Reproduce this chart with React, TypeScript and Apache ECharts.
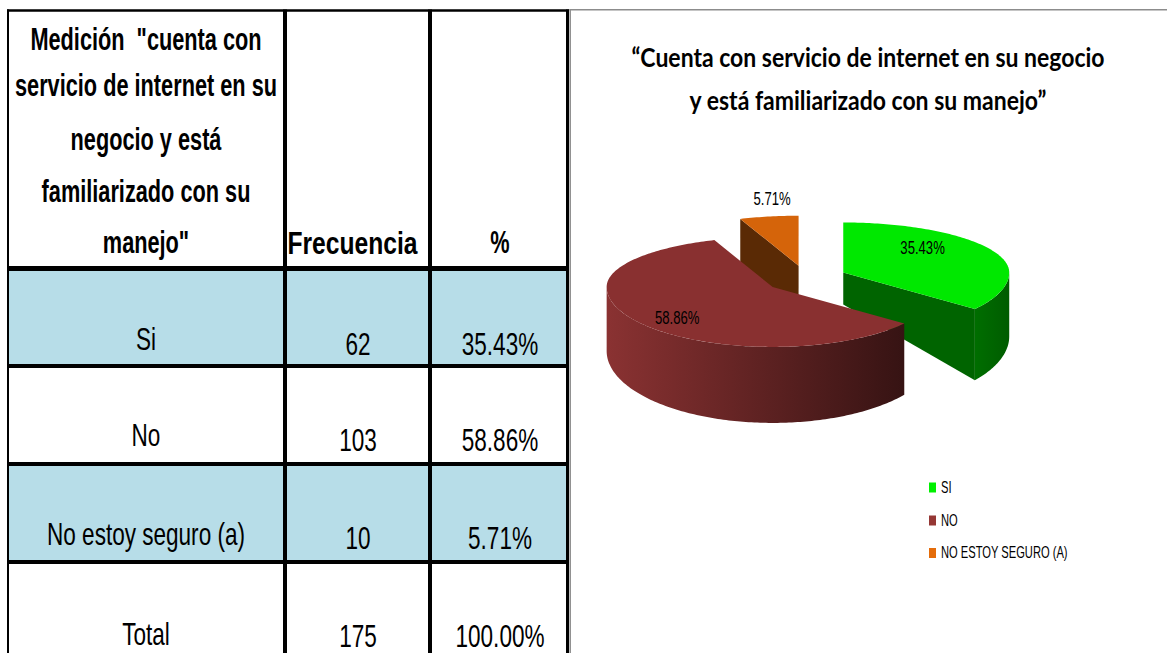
import React, { useEffect, useRef } from "react";
import * as echarts from "echarts";

// ---------------- data ----------------
const categories = ["Si", "No", "No estoy seguro (a)"];
const frequencies = [62, 103, 10];
const totalLabel = "Total";
const headerLabelLines = [
  "Medición  \"cuenta con",
  "servicio de internet en su",
  "negocio y está",
  "familiarizado con su",
  "manejo\"",
];
const headerFrequency = "Frecuencia";
const headerPercent = "%";
const pieNames = ["SI", "NO", "NO ESTOY SEGURO (A)"];
const titleLines = [
  "\u201CCuenta con servicio de internet en su negocio",
  "y está familiarizado con su manejo\u201D",
];

// ---------------- styles ----------------
// Arial Narrow is emulated with Liberation Sans squeezed horizontally
const SANS = "'Liberation Sans', Arial, sans-serif";
const NARROW_X = 0.82;
const TITLE_FONT = "Lato, 'Open Sans', sans-serif";
const topColors = ["#00E800", "#893030", "#D5640A"];
const faceColors = ["#006400", "#4A1A1A", "#5A2A05"];
const wallColors = [
  ["#006E00", "#005C00"],
  ["#8A3232", "#361313"],
  ["#B05008", "#7A3804"],
];
const legendColors = ["#00F000", "#953735", "#E46C0A"];
const labelR = [0.6, 0.7, 1.3];
const labelOffset = [
  [-10, -12],
  [-2, 6],
  [12, -3],
];

// pie geometry
const CX = 806;
const CY = 278;
const RX = 166;
const RY_BACK = 50;
const RY_FRONT = 60;
const DEPTH = 64;
const FRONT_EXTRA = 12;
const EXPLODE = 0.25;

const total = frequencies.reduce((a, b) => a + b, 0);
const pct = (v: number) => ((v / total) * 100).toFixed(2) + "%";

function txt(text: string, x: number, y: number, o: any = {}) {
  return {
    type: "text",
    x,
    y,
    scaleX: o.sx ?? NARROW_X,
    scaleY: o.sy ?? 1,
    z: o.z ?? 10,
    silent: true,
    style: {
      text,
      x: 0,
      y: 0,
      fill: o.fill ?? "#000",
      fontSize: o.size ?? 27,
      fontFamily: o.family ?? SANS,
      fontWeight: o.weight ?? "normal",
      align: o.align ?? "center",
      textAlign: o.align ?? "center",
      verticalAlign: "middle",
      textVerticalAlign: "middle",
    },
  };
}

function line(x1: number, y1: number, x2: number, y2: number, w: number, color = "#000", z = 5) {
  return {
    type: "line",
    z,
    silent: true,
    shape: { x1, y1, x2, y2 },
    style: { stroke: color, lineWidth: w },
  };
}

function buildGraphic() {
  const els: any[] = [];
  // table layout
  const L = 8, C1 = 285, C2 = 430, R = 567.5;
  const colCenters = [146, 356, 500];
  const rowDividers = [268.5, 366, 464, 562];
  const rowEnds = [366, 464, 562, 660];
  const shaded = [true, false, true, false];
  const labelY = [339, 435, 534.5, 634];
  const numY = [344, 440, 538.5, 636];

  rowDividers.forEach((y0, r) => {
    if (shaded[r]) {
      els.push({
        type: "rect",
        z: 1,
        silent: true,
        shape: { x: L, y: y0, width: R - L, height: rowEnds[r] - y0 },
        style: { fill: "#B7DDE8" },
      });
    }
  });
  // horizontal lines
  els.push(line(7, 10.5, 569, 10.5, 2.5));
  els.push(line(7, 268.5, 569, 268.5, 5));
  els.push(line(7, 366, 569, 366, 4));
  els.push(line(7, 464, 569, 464, 4));
  els.push(line(7, 562, 569, 562, 4));
  // vertical lines
  els.push(line(L, 9.5, L, 660, 2));
  els.push(line(C1, 9.5, C1, 660, 4));
  els.push(line(C2, 9.5, C2, 660, 4));
  els.push(line(R, 9.5, R, 660, 3));
  // chart area border (gray)
  els.push(line(570.2, 9, 570.2, 660, 1.5, "#8C8C8C"));
  els.push(line(569.5, 9.7, 1170, 9.7, 1.5, "#8C8C8C"));

  // header texts
  const headerY = [40, 86, 140, 192, 243];
  headerLabelLines.forEach((t, k) => {
    els.push(txt(t, colCenters[0], headerY[k], { size: 26.5, weight: "bold", sy: 1.17 }));
  });
  els.push(txt(headerFrequency, 352.5, 243, { size: 26.5, weight: "bold", sx: 0.93, sy: 1.17 }));
  els.push(txt(headerPercent, colCenters[2], 243, { size: 26.5, weight: "bold", sy: 1.17 }));

  // body rows
  const rows = categories.map((c, i) => [c, String(frequencies[i]), pct(frequencies[i])]);
  rows.push([totalLabel, String(total), pct(total)]);
  rows.forEach((row, r) => {
    els.push(txt(row[0], colCenters[0], labelY[r], { size: 27.5, sy: 1.14 }));
    els.push(txt(row[1], colCenters[1] + 2, numY[r], { size: 27.5, sy: 1.14 }));
    els.push(txt(row[2], colCenters[2], numY[r], { size: 27.5, sy: 1.14 }));
  });

  // chart title
  const titleY = [57, 100];
  titleLines.forEach((t, k) => {
    els.push(txt(t, 868, titleY[k], { size: 23, weight: "bold", family: TITLE_FONT, sx: 1, sy: 1.15 }));
  });

  // legend
  const legY = [487.5, 520.5, 553];
  pieNames.forEach((n, i) => {
    els.push({
      type: "rect",
      z: 10,
      silent: true,
      shape: { x: 929, y: legY[i] - 5, width: 7, height: 10 },
      style: { fill: legendColors[i] },
    });
    els.push(txt(n, 941, legY[i], { size: 13.6, sy: 1.15, align: "left" }));
  });
  return els;
}

const ryOf = (t: number) => (Math.cos(t) > 0 ? RY_BACK : RY_FRONT);
const ptAt = (ax: number, ay: number, t: number, f = 1): number[] => [
  ax + f * RX * Math.sin(t),
  ay - f * ryOf(t) * Math.cos(t),
];
// bottom rim point (slightly larger towards the viewer, like a perspective view)
const botAt = (ax: number, ay: number, t: number): number[] => {
  const c = Math.cos(t);
  const extra = c < 0 ? FRONT_EXTRA : 0;
  return [ax + RX * Math.sin(t), ay - (ryOf(t) + extra) * c + DEPTH];
};
const arcPts = (ax: number, ay: number, t0: number, t1: number, bottom = false) => {
  const n = Math.max(2, Math.ceil((t1 - t0) / (Math.PI / 180)));
  const out: number[][] = [];
  for (let j = 0; j <= n; j++) {
    const t = t0 + ((t1 - t0) * j) / n;
    out.push(bottom ? botAt(ax, ay, t) : ptAt(ax, ay, t));
  }
  return out;
};

function sliceAngles() {
  const res: number[][] = [];
  let acc = 0;
  frequencies.forEach((v) => {
    const a0 = (acc / total) * Math.PI * 2;
    acc += v;
    const a1 = (acc / total) * Math.PI * 2;
    res.push([a0, a1]);
  });
  return res;
}

function renderItem(params: any, api: any) {
  const i = params.dataIndex;
  const v = api.value(0);
  const angles = sliceAngles();
  const a0 = angles[i][0];
  const a1 = a0 + (v / total) * Math.PI * 2;
  const mid = (a0 + a1) / 2;
  // back-to-front rank
  const mids = angles.map((a) => Math.cos((a[0] + a[1]) / 2));
  const rank = mids.filter((c) => c > Math.cos(mid)).length;
  const base = rank * 10;
  const [ax, ay] = ptAt(CX, CY, mid, EXPLODE);
  const children: any[] = [];

  // outer wall (front-facing part)
  const lo = Math.max(a0, Math.PI / 2);
  const hi = Math.min(a1, (3 * Math.PI) / 2);
  if (hi > lo) {
    const topArc = arcPts(ax, ay, lo, hi);
    const botArc = arcPts(ax, ay, lo, hi, true).reverse();
    children.push({
      type: "polygon",
      z2: base + 1,
      shape: { points: topArc.concat(botArc) },
      style: {
        fill: new echarts.graphic.LinearGradient(1, 0, 0, 0, [
          { offset: 0, color: wallColors[i][1] },
          { offset: 1, color: wallColors[i][0] },
        ]),
        stroke: null,
      },
    });
  }
  // radial faces
  const face = (t: number) => {
    const rim = ptAt(ax, ay, t);
    const rimB = botAt(ax, ay, t);
    return {
      type: "polygon",
      z2: base + 2,
      shape: {
        points: [[ax, ay], rim, rimB, [ax, ay + DEPTH * 0.5]],
      },
      style: { fill: faceColors[i], stroke: null },
    };
  };
  if (Math.sin(a0) < -1e-6) children.push(face(a0));
  if (Math.sin(a1) > 1e-6) children.push(face(a1));

  // top face
  children.push({
    type: "polygon",
    z2: base + 5,
    shape: { points: [[ax, ay]].concat(arcPts(ax, ay, a0, a1)) },
    style: { fill: topColors[i], stroke: null },
  });

  // label
  const lp = ptAt(ax, ay, mid, labelR[i]);
  children.push({
    type: "text",
    x: lp[0] + labelOffset[i][0],
    y: lp[1] + labelOffset[i][1],
    scaleX: NARROW_X,
    scaleY: 1.15,
    z2: 100,
    style: {
      text: pct(v),
      fill: "#000",
      fontSize: 16,
      fontFamily: SANS,
      align: "center",
      textAlign: "center",
      verticalAlign: "middle",
      textVerticalAlign: "middle",
    },
  });

  return { type: "group", children };
}

export default function App() {
  const ref = useRef<HTMLDivElement>(null);
  useEffect(() => {
    document.body.style.margin = "0";
    if (!ref.current) return;
    const chart = echarts.init(ref.current, undefined, { renderer: "svg" });
    chart.setOption({
      animation: false,
      backgroundColor: "#ffffff",
      graphic: { elements: buildGraphic() },
      series: [
        {
          type: "custom",
          coordinateSystem: "none",
          silent: true,
          data: frequencies.map((v, i) => ({ name: pieNames[i], value: v })),
          renderItem,
        },
      ],
    });
    return () => chart.dispose();
  }, []);
  return <div ref={ref} style={{ width: 1167, height: 653 }} />;
}
